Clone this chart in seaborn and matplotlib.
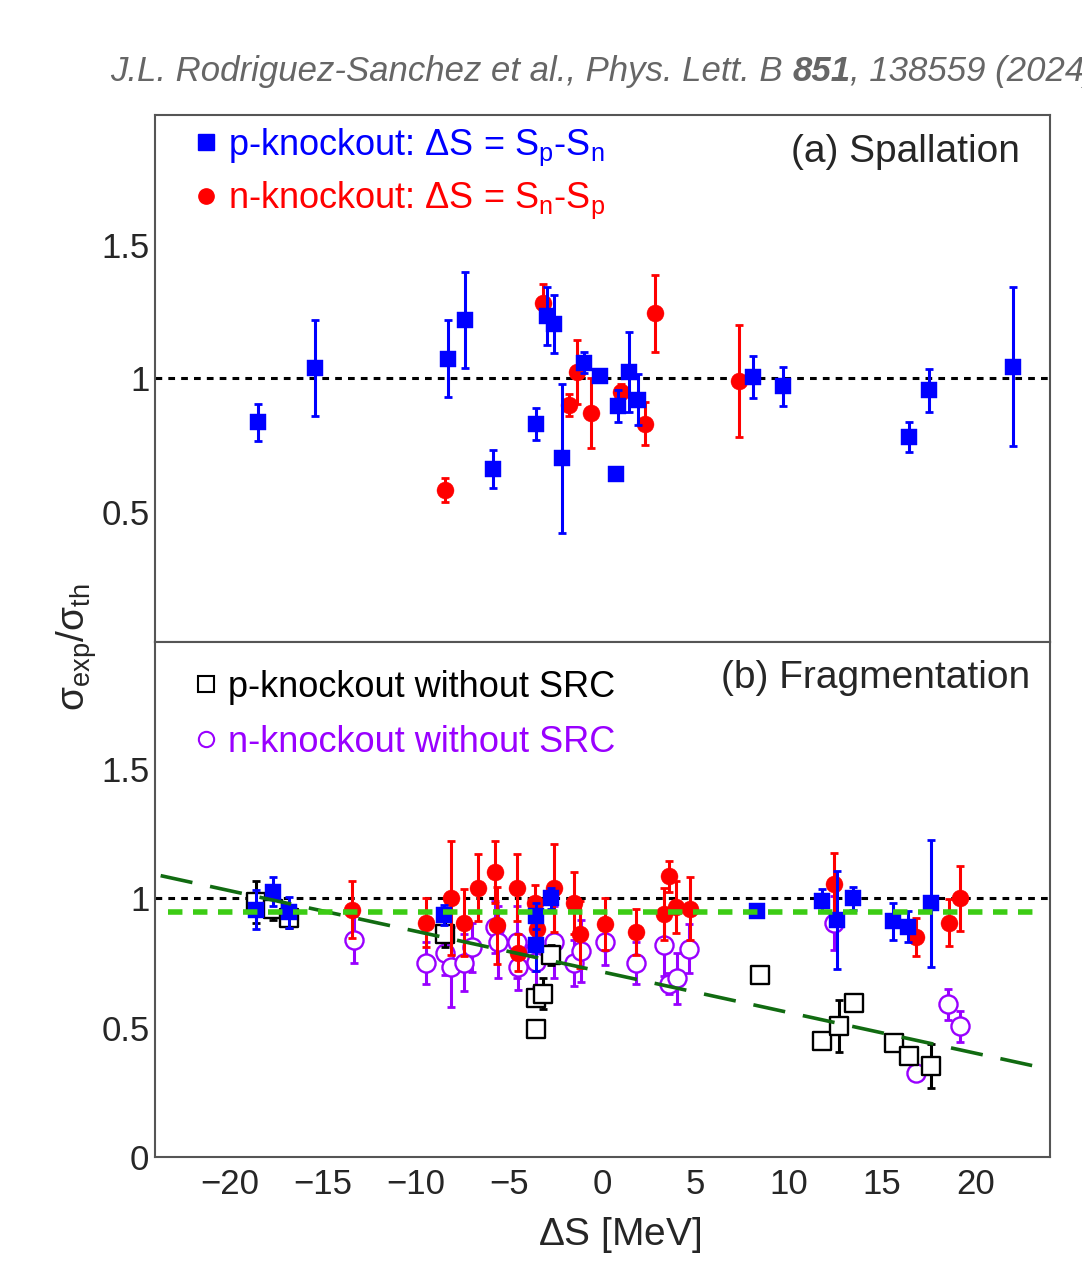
import matplotlib
matplotlib.use("Agg")
import matplotlib.pyplot as plt
from matplotlib.lines import Line2D
from matplotlib.ticker import MultipleLocator, FuncFormatter
import numpy as np
import seaborn as sns

# ---------------- data ----------------
# (a) Spallation
sp_p_x = [-18.5, -15.4, -8.3, -7.4, -5.9, -3.55, -3.0, -2.6, -2.15, -1.0,
          -0.15, 0.7, 0.85, 1.4, 1.9, 8.05, 9.7, 16.45, 17.5, 22.0]
sp_p_y = [0.835, 1.04, 1.075, 1.22, 0.66, 0.83, 1.235, 1.205, 0.70, 1.06,
          1.01, 0.64, 0.895, 1.025, 0.92, 1.005, 0.97, 0.78, 0.955, 1.045]
sp_p_err = [0.07, 0.18, 0.145, 0.18, 0.07, 0.06, 0.11, 0.11, 0.28, 0.04,
            0.0, 0.0, 0.06, 0.15, 0.095, 0.08, 0.075, 0.055, 0.08, 0.30]

sp_n_x = [-8.45, -3.2, -1.35, -1.8, -0.6, 1.0, 2.3, 2.8, 7.3]
sp_n_y = [0.58, 1.285, 1.025, 0.90, 0.87, 0.95, 0.83, 1.245, 0.99]
sp_n_err = [0.045, 0.07, 0.12, 0.04, 0.13, 0.03, 0.08, 0.145, 0.21]

# (b) Fragmentation
fr_p_x = [-18.6, -17.7, -16.8, -8.5, -3.55, -3.55, -2.75, 8.3, 11.75, 12.6,
          13.45, 15.6, 16.4, 17.6]
fr_p_y = [0.956, 1.025, 0.945, 0.935, 0.93, 0.82, 1.0, 0.95, 0.99, 0.915,
          1.0, 0.91, 0.89, 0.98]
fr_p_err = [0.075, 0.055, 0.06, 0.04, 0.05, 0.10, 0.04, 0.02, 0.045, 0.19,
            0.045, 0.07, 0.06, 0.245]

fr_n_x = [-13.45, -9.45, -8.1, -7.45, -6.7, -5.75, -5.65, -4.6, -4.55, -3.6,
          -3.5, -2.6, -1.55, -1.2, 0.15, 1.8, 3.3, 3.55, 3.95, 4.7,
          12.4, 16.8, 18.6, 19.2]
fr_n_y = [0.955, 0.905, 1.0, 0.905, 1.04, 1.10, 0.895, 1.04, 0.79, 0.98,
          0.88, 1.04, 0.98, 0.86, 0.90, 0.87, 0.94, 1.085, 0.965, 0.96,
          1.055, 0.85, 0.905, 1.0]
fr_n_err = [0.11, 0.095, 0.22, 0.13, 0.13, 0.12, 0.15, 0.13, 0.07, 0.07,
            0.06, 0.17, 0.12, 0.13, 0.10, 0.09, 0.10, 0.06, 0.10, 0.12,
            0.12, 0.075, 0.09, 0.125]

nosrc_p_x = [-18.6, -17.7, -16.8, -8.45, -3.55, -3.2, -3.55, -2.75, 8.45,
             11.75, 12.7, 13.5, 15.65, 16.45, 17.6]
nosrc_p_y = [0.985, 0.96, 0.925, 0.86, 0.615, 0.63, 0.495, 0.78, 0.705,
             0.45, 0.505, 0.595, 0.44, 0.39, 0.35]
nosrc_p_err = [0.08, 0.045, 0.04, 0.05, 0.0, 0.06, 0.0, 0.04, 0.0,
               0.0, 0.10, 0.0, 0.02, 0.0, 0.085]

nosrc_n_x = [-13.35, -9.45, -8.45, -8.1, -7.45, -7.0, -5.75, -5.6, -4.6, -4.55,
             -3.6, -3.55, -2.6, -1.55, -1.15, 0.15, 1.8, 3.3, 3.55, 4.0,
             4.65, 12.4, 16.8, 18.55, 19.2]
nosrc_n_y = [0.84, 0.75, 0.79, 0.735, 0.75, 0.81, 0.89, 0.83, 0.83, 0.735,
             0.80, 0.755, 0.83, 0.75, 0.795, 0.83, 0.75, 0.82, 0.67, 0.69,
             0.805, 0.905, 0.325, 0.59, 0.505]
nosrc_n_err = [0.09, 0.08, 0.085, 0.155, 0.11, 0.095, 0.10, 0.14, 0.14, 0.09,
               0.08, 0.10, 0.14, 0.09, 0.12, 0.09, 0.08, 0.12, 0.04, 0.10,
               0.095, 0.105, 0.0, 0.06, 0.06]

# linear trend of the no-SRC ratios and mean level with SRC
trend_x = [-23.7, 23.9]
trend_intercept = 0.715
trend_slope = -0.0157
mean_x = [-23.3, 23.3]
mean_level = 0.945

# ---------------- style ----------------
sns.set_style("white")
plt.rcParams["font.family"] = ["Liberation Sans", "DejaVu Sans"]
plt.rcParams["mathtext.fontset"] = "custom"
plt.rcParams["mathtext.rm"] = "Liberation Sans"
plt.rcParams["mathtext.it"] = "Liberation Sans:italic"
plt.rcParams["mathtext.bf"] = "Liberation Sans:bold"

BLUE = "#0000ff"
RED = "#ff0000"
PURPLE = "#9900ff"
FRAME = "#555555"

fig = plt.figure(figsize=(10.82, 12.61), dpi=100)
ax1 = fig.add_axes([0.1433, 0.4909, 0.8271, 0.4179])
ax2 = fig.add_axes([0.1433, 0.0825, 0.8271, 0.4084])


def fmt_tick(v, pos=None):
    return f"{v:g}".replace("-", "\u2212")


def style_axes(ax, ylo):
    ax.set_xlim(-24, 24)
    ax.set_ylim(ylo, 1.99)
    ax.xaxis.set_major_locator(MultipleLocator(5))
    ax.xaxis.set_minor_locator(MultipleLocator(1))
    ax.yaxis.set_major_locator(MultipleLocator(0.5))
    ax.yaxis.set_minor_locator(MultipleLocator(0.1))
    ax.xaxis.set_major_formatter(FuncFormatter(fmt_tick))
    ax.yaxis.set_major_formatter(FuncFormatter(fmt_tick))
    ax.tick_params(which="both", direction="in", top=False, right=False,
                   color=FRAME, width=1.5, labelsize=25)
    ax.tick_params(which="major", length=19)
    ax.tick_params(which="minor", length=10)
    ax.tick_params(axis="y", pad=4)
    ax.tick_params(axis="x", pad=8)
    for sp in ax.spines.values():
        sp.set_color(FRAME)
        sp.set_linewidth(1.5)
    ax.axhline(1.0, color="black", lw=2.2, ls=(0, (2.2, 2.0)), zorder=2)


def draw_series(ax, x, y, err, color, marker, size, hollow, z):
    ax.errorbar(x, y, yerr=err, fmt="none", ecolor=color, elinewidth=2.2,
                capsize=3, capthick=2.0, zorder=z)
    if hollow:
        # open markers: error bars are not drawn across the marker body
        sns.scatterplot(x=x, y=y, ax=ax, marker=marker, s=size, color=color,
                        facecolor="white", edgecolor=color, linewidth=1.7,
                        zorder=z + 0.1, legend=False)
    else:
        sns.scatterplot(x=x, y=y, ax=ax, marker=marker, s=size, color=color,
                        edgecolor=color, linewidth=0.3, zorder=z + 0.1,
                        legend=False)


style_axes(ax1, 0.01)
style_axes(ax2, 0.0)
ax1.tick_params(labelbottom=False)

# (a) Spallation
draw_series(ax1, sp_n_x, sp_n_y, sp_n_err, RED, "o", 150, False, 4)
draw_series(ax1, sp_p_x, sp_p_y, sp_p_err, BLUE, "s", 132, False, 5)

# (b) Fragmentation
draw_series(ax2, nosrc_n_x, nosrc_n_y, nosrc_n_err, PURPLE, "o", 170, True, 3)
draw_series(ax2, nosrc_p_x, nosrc_p_y, nosrc_p_err, "black", "s", 150, True, 3.5)
draw_series(ax2, fr_n_x, fr_n_y, fr_n_err, RED, "o", 150, False, 4)
draw_series(ax2, fr_p_x, fr_p_y, fr_p_err, BLUE, "s", 132, False, 5)

trend_y = [trend_intercept + trend_slope * v for v in trend_x]
sns.lineplot(x=trend_x, y=trend_y, ax=ax2, color="#116b11", lw=2.6,
             dashes=False, zorder=7)
ax2.lines[-1].set_linestyle((0, (9, 5)))
sns.lineplot(x=mean_x, y=[mean_level, mean_level], ax=ax2, color="#3ccc14",
             lw=4.0, zorder=7.5)
ax2.lines[-1].set_linestyle((0, (2.6, 1.9)))

# legends
leg_a = [Line2D([], [], ls="none", marker="s", ms=11, color=BLUE),
         Line2D([], [], ls="none", marker="o", ms=11, color=RED)]
lab_a = [r"p-knockout: $\Delta$S = S$_{\rm p}$-S$_{\rm n}$",
         r"n-knockout: $\Delta$S = S$_{\rm n}$-S$_{\rm p}$"]
la = ax1.legend(leg_a, lab_a, loc="upper left", bbox_to_anchor=(0.0447, 0.978),
                frameon=False, fontsize=26, handlelength=0.6,
                handletextpad=0.3, borderaxespad=0, borderpad=0,
                labelspacing=0.33)
for t, c in zip(la.get_texts(), [BLUE, RED]):
    t.set_color(c)

leg_b = [Line2D([], [], ls="none", marker="s", ms=12, mfc="none", mec="black", mew=1.5),
         Line2D([], [], ls="none", marker="o", ms=11, mfc="none", mec=PURPLE, mew=1.5)]
lab_b = ["p-knockout without SRC", "n-knockout without SRC"]
lb = ax2.legend(leg_b, lab_b, loc="upper left", bbox_to_anchor=(0.0447, 0.946),
                frameon=False, fontsize=26, handlelength=0.6,
                handletextpad=0.3, borderaxespad=0, borderpad=0,
                labelspacing=0.55)
for t, c in zip(lb.get_texts(), ["black", PURPLE]):
    t.set_color(c)

ax1.text(0.9665, 0.930, "(a) Spallation", transform=ax1.transAxes,
         ha="right", va="center", fontsize=28)
ax2.text(0.9777, 0.930, "(b) Fragmentation", transform=ax2.transAxes,
         ha="right", va="center", fontsize=28)

# axis titles
fig.text(0.071, 0.487, r"$\mathrm{\sigma}_{\rm exp}/\mathrm{\sigma}_{\rm th}$",
         rotation=90, ha="center", va="center", fontsize=28)
fig.text(0.573, 0.0206, r"$\Delta$S [MeV]", ha="center", va="center",
         fontsize=28)

# reference line at the top, with bold-italic volume number
fig.canvas.draw()
renderer = fig.canvas.get_renderer()
xpos = 0.1017
for s, w in [("J.L. Rodriguez-Sanchez et al., Phys. Lett. B ", "normal"),
             ("851", "bold"), (", 138559 (2024)", "normal")]:
    t = fig.text(xpos, 0.943, s, style="italic", weight=w, color="#666666",
                 fontsize=25, ha="left", va="center")
    bb = t.get_window_extent(renderer=renderer)
    xpos = bb.x1 / fig.bbox.width

fig.savefig("out.png", dpi=100)
